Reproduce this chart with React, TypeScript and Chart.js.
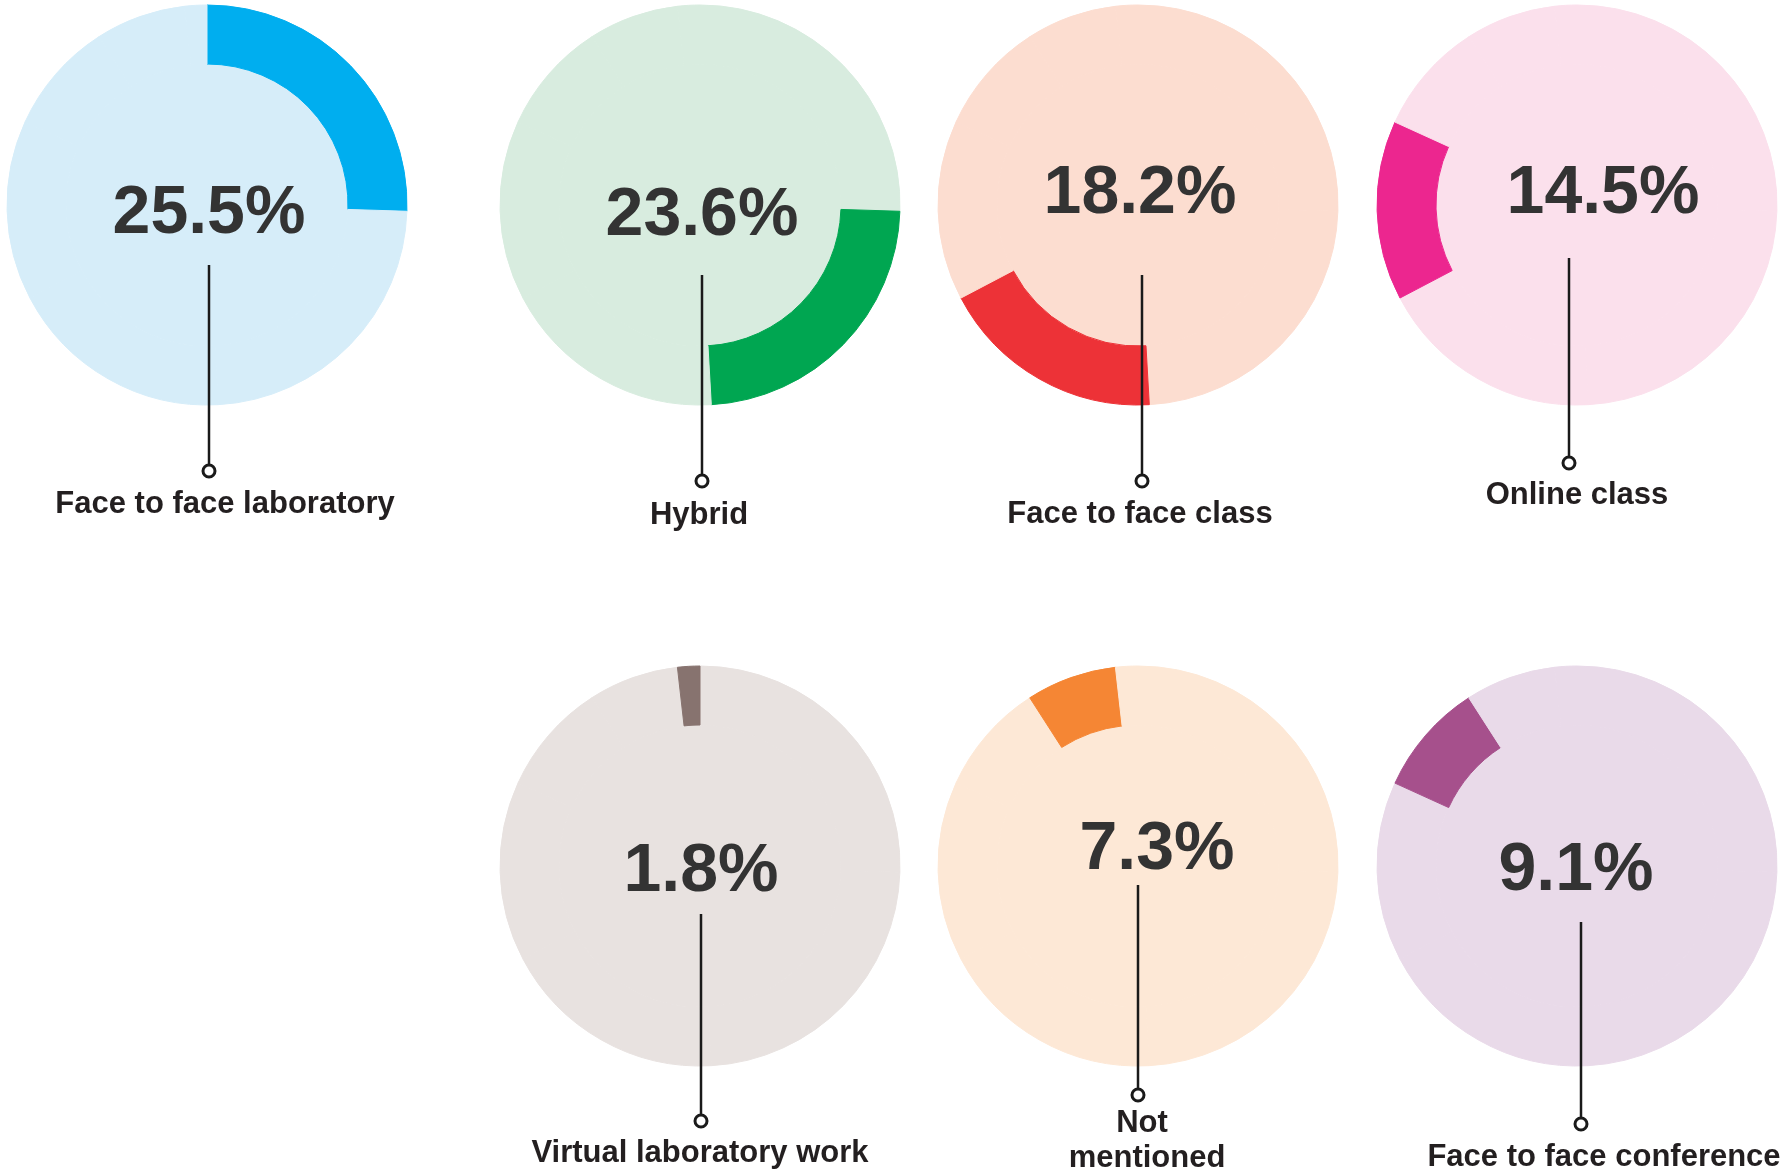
import React, { useEffect, useRef } from "react";
import { Chart, registerables } from "chart.js";

Chart.register(...registerables);

// ---- data ----
const categories = [
  "Face to face laboratory",
  "Hybrid",
  "Face to face class",
  "Online class",
  "Face to face conference",
  "Not mentioned",
  "Virtual laboratory work",
];
const percentages = [25.5, 23.6, 18.2, 14.5, 9.1, 7.3, 1.8];
const labelLines = [
  ["Face to face laboratory"],
  ["Hybrid"],
  ["Face to face class"],
  ["Online class"],
  ["Face to face conference"],
  ["Not", "mentioned"],
  ["Virtual laboratory work"],
];
const accentColors = ["#00AEEF", "#00A651", "#ED3237", "#EC268F", "#A6508C", "#F58634", "#87736F"];
const paleColors = ["#D6EDF9", "#D8ECDF", "#FCDDD0", "#FBE0EC", "#E9DAE9", "#FDE8D6", "#E8E2E0"];

// ---- layout (page pixel positions) ----
const R = 200;
const RING = 59;
type Layout = {
  cx: number; cy: number;
  tx: number; ty: number;
  lx: number; lTop: number; mY: number;
  labels: { x: number; y: number }[];
};
const layouts: Layout[] = [
  { cx: 207, cy: 205, tx: 209, ty: 233, lx: 209, lTop: 265, mY: 471, labels: [{ x: 225, y: 513 }] },
  { cx: 700, cy: 205, tx: 702, ty: 235, lx: 702, lTop: 275, mY: 481, labels: [{ x: 699, y: 524 }] },
  { cx: 1138, cy: 205, tx: 1140, ty: 213, lx: 1142, lTop: 275, mY: 481, labels: [{ x: 1140, y: 523 }] },
  { cx: 1577, cy: 205, tx: 1603, ty: 213, lx: 1569, lTop: 258, mY: 463, labels: [{ x: 1577, y: 504 }] },
  { cx: 1577, cy: 866, tx: 1576, ty: 890, lx: 1581, lTop: 922, mY: 1124, labels: [{ x: 1604, y: 1166 }] },
  { cx: 1138, cy: 866, tx: 1157, ty: 869, lx: 1138, lTop: 885, mY: 1095, labels: [{ x: 1142, y: 1132 }, { x: 1147, y: 1167 }] },
  { cx: 700, cy: 866, tx: 701, ty: 891, lx: 701, lTop: 914, mY: 1121, labels: [{ x: 700, y: 1162 }] },
];

const FONT = '"Liberation Sans", Arial, Helvetica, sans-serif';

function Panel({ index }: { index: number }) {
  const ref = useRef<HTMLCanvasElement>(null);
  const L = layouts[index];
  const W = 470;
  const left = L.cx - W / 2;
  const top = L.cy - R - 5;
  const H = L.cy < 500 ? 550 : 1174 - top;

  useEffect(() => {
    const canvas = ref.current;
    if (!canvas) return;
    const pale = paleColors[index];
    const accent = accentColors[index];
    const colors = categories.map((_, j) => (j === index ? accent : pale));

    const annotate = {
      id: "annotate" + index,
      afterDraw(chart: any) {
        const ctx = chart.ctx as CanvasRenderingContext2D;
        ctx.save();
        // percentage
        ctx.fillStyle = "#333333";
        ctx.font = `bold 68px ${FONT}`;
        ctx.textAlign = "center";
        ctx.textBaseline = "alphabetic";
        ctx.fillText(percentages[index].toFixed(1) + "%", L.tx - left, L.ty - top);
        // leader line
        const mr = 6;
        ctx.strokeStyle = "#1a1a1a";
        ctx.lineWidth = 2.5;
        ctx.beginPath();
        ctx.moveTo(L.lx - left, L.lTop - top);
        ctx.lineTo(L.lx - left, L.mY - top - mr);
        ctx.stroke();
        // marker
        ctx.lineWidth = 3;
        ctx.fillStyle = "#ffffff";
        ctx.beginPath();
        ctx.arc(L.lx - left, L.mY - top, mr, 0, Math.PI * 2);
        ctx.fill();
        ctx.stroke();
        // label
        ctx.fillStyle = "#231F20";
        ctx.font = `bold 31px ${FONT}`;
        labelLines[index].forEach((t, k) => {
          const p = L.labels[k];
          ctx.fillText(t, p.x - left, p.y - top);
        });
        ctx.restore();
      },
    };

    const chart = new Chart(canvas, {
      type: "doughnut",
      data: {
        labels: categories,
        datasets: [
          {
            data: percentages,
            backgroundColor: colors,
            borderColor: colors,
            borderWidth: 1,
            hoverOffset: 0,
            offset: 0,
            weight: RING,
          } as any,
          {
            data: [100],
            backgroundColor: [pale],
            borderColor: [pale],
            borderWidth: 1,
            hoverOffset: 0,
            offset: 0,
            weight: R - RING,
          } as any,
        ],
      },
      options: {
        responsive: false,
        animation: false,
        events: [],
        cutout: 0,
        radius: R,
        rotation: 0,
        circumference: 360,
        layout: {
          padding: {
            left: L.cx - R - left,
            right: left + W - (L.cx + R),
            top: L.cy - R - top,
            bottom: top + H - (L.cy + R),
          },
        },
        plugins: {
          legend: { display: false },
          tooltip: { enabled: false },
        },
      } as any,
      plugins: [annotate],
    });
    return () => chart.destroy();
  }, [index]);

  return (
    <canvas
      ref={ref}
      width={W}
      height={H}
      style={{ position: "absolute", left, top, width: W, height: H }}
    />
  );
}

export default function App() {
  return (
    <div
      style={{
        position: "absolute",
        left: 0,
        top: 0,
        width: 1784,
        height: 1174,
        overflow: "hidden",
        background: "#ffffff",
      }}
    >
      {categories.map((_, i) => (
        <Panel key={i} index={i} />
      ))}
    </div>
  );
}
